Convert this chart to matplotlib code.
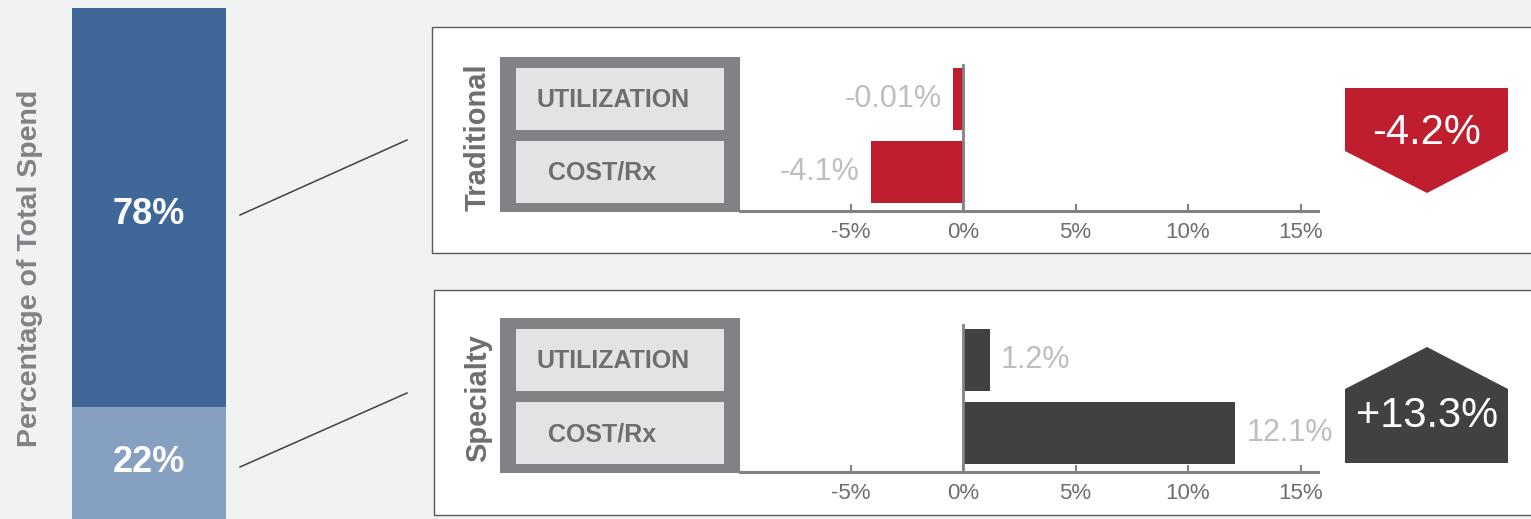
#!/usr/bin/env python3
"""Traditional vs specialty drug spend: share of spend and trend components."""

import numpy as np
import matplotlib.pyplot as plt
from matplotlib.patches import Rectangle, Polygon

# ---- data ----
segments = ["Traditional", "Specialty"]
share_of_spend = [78, 22]
components = ["UTILIZATION", "COST/Rx"]
trad_values = [-0.01, -4.1]
spec_values = [1.2, 12.1]
trad_labels = ["-0.01%", "-4.1%"]
spec_labels = ["1.2%", "12.1%"]
totals = [-4.2, 13.3]
x_ticks = [-5, 0, 5, 10, 15]

# ---- style ----
W, H = 1531, 519
BG = "#f1f2f2"
DARK_BLUE = "#3f6899"
LIGHT_BLUE = "#86a0c2"
RED = "#be1e2d"
CHARCOAL = "#414042"
FRAME = "#808285"
INNER = "#e2e3e4"
TEXT_DARK = "#6d6e71"
TEXT_LIGHT = "#bcbec0"
NARROW = ["Liberation Sans Narrow", "Liberation Sans", "DejaVu Sans"]
SANS = ["Liberation Sans", "DejaVu Sans"]

X0, PX = 963, 22.5   # pixel of 0% and pixels per percent
ROW = 73             # pixels between the two bar rows


def rect(x0, y0, x1, y1):
    """pixel box -> figure fraction [l, b, w, h]"""
    return [x0 / W, 1 - y1 / H, (x1 - x0) / W, (y1 - y0) / H]


fig = plt.figure(figsize=(W / 100, H / 100), dpi=100, facecolor=BG)

# overlay in pixel coords for frames, badges and connectors
ov = fig.add_axes([0, 0, 1, 1], zorder=0)
ov.set_xlim(0, W)
ov.set_ylim(H, 0)
ov.axis("off")

# left stacked bar
axs = fig.add_axes(rect(72, 8, 226, 519), zorder=1)
axs.bar(0, share_of_spend[1], width=1, color=LIGHT_BLUE)
axs.bar(0, share_of_spend[0], bottom=share_of_spend[1], width=1, color=DARK_BLUE)
axs.annotate(f"{share_of_spend[0]}%", (0, share_of_spend[1] + share_of_spend[0] / 2),
             xytext=(0, -5), textcoords="offset points",
             ha="center", va="center", color="white", fontsize=26, fontweight="bold", family=SANS)
axs.annotate(f"{share_of_spend[1]}%", (0, share_of_spend[1] / 2),
             ha="center", va="center", color="white", fontsize=26, fontweight="bold", family=SANS)
axs.set_xlim(-0.5, 0.5)
axs.set_ylim(0, 100)
axs.axis("off")

fig.text(30 / W, 1 - 268 / H, "Percentage of Total Spend", rotation=90, ha="center", va="center",
         color=FRAME, fontsize=20.5, fontweight="bold", family=SANS)

# connector lines
ov.plot([240, 407], [215, 140], color="#414042", lw=1.1)
ov.plot([240, 407], [467, 393], color="#414042", lw=1.1)

panels = [
    dict(box=(432, 27, 1545, 253), top=57, vals=trad_values, labels=trad_labels,
         color=RED, total=totals[0], zero_top=65),
    dict(box=(434, 290, 1545, 515), top=318, vals=spec_values, labels=spec_labels,
         color=CHARCOAL, total=totals[1], zero_top=325),
]

for seg, p in zip(segments, panels):
    bx0, by0, bx1, by1 = p["box"]
    ov.add_patch(Rectangle((bx0, by0), bx1 - bx0, by1 - by0, facecolor="white",
                           edgecolor="#58595b", lw=1))
    top = p["top"]
    # category label frame
    ov.add_patch(Rectangle((500, top), 240, 155, facecolor=FRAME, edgecolor="none"))
    for i, name in enumerate(components):
        yb = top + 11 + i * ROW
        ov.add_patch(Rectangle((516, yb), 208, 62, facecolor=INNER, edgecolor="none"))
        ov.text(537 if i == 0 else 548, yb + 32, name, ha="left", va="center",
                color=TEXT_DARK, fontsize=18, fontweight="bold", family=NARROW)
    ov.text(478, top + 80, seg, rotation=90, ha="center", va="center",
            color=TEXT_DARK, fontsize=21, fontweight="bold", family=SANS)

    # bar axes: rows centred 42 px and 42+ROW px below the axes top
    ax = fig.add_axes(rect(740, top, 1318, top + 154), zorder=2)
    ax.patch.set_alpha(0)
    ax.set_xlim((740 - X0) / PX, (1318 - X0) / PX)
    ax.set_ylim((154 - 42) / ROW, -42 / ROW)
    vals = np.array(p["vals"])
    shown = np.sign(vals) * np.maximum(np.abs(vals), 0.45)  # keep tiny bars visible
    ypos = np.arange(len(components))
    ax.barh(ypos, shown, height=62 / ROW, color=p["color"], zorder=2)
    for y, v, lab in zip(ypos, shown, p["labels"]):
        if v < 0:
            ax.annotate(lab, (v, y), xytext=(-8, 0), textcoords="offset points",
                        ha="right", va="center", color=TEXT_LIGHT, fontsize=22, family=NARROW)
        else:
            ax.annotate(lab, (v, y), xytext=(8, 0), textcoords="offset points",
                        ha="left", va="center", color=TEXT_LIGHT, fontsize=22, family=NARROW)
    ax.axvline(0, ymin=0, ymax=(top + 154 - p["zero_top"]) / 154, color=FRAME, lw=2, zorder=3)
    for s in ["top", "right", "left"]:
        ax.spines[s].set_visible(False)
    ax.spines["bottom"].set_color(FRAME)
    ax.spines["bottom"].set_linewidth(2.2)
    ax.set_yticks([])
    ax.set_xticks(x_ticks)
    ax.set_xticklabels([f"{t}%" for t in x_ticks], family=NARROW, fontsize=16, color=TEXT_DARK)
    ax.tick_params(axis="x", direction="in", length=5, width=1.5, color=FRAME, pad=8)

    # badge with total
    cx = 1427
    if p["total"] < 0:
        pts = [(1345, 88), (1508, 88), (1508, 151), (cx, 193), (1345, 151)]
        ty = 133
    else:
        pts = [(1345, 463), (1508, 463), (1508, 389), (cx, 347), (1345, 389)]
        ty = 416
    ov.add_patch(Polygon(pts, closed=True, facecolor=p["color"], edgecolor="none"))
    ov.text(cx, ty, f"{p['total']:+.1f}%", ha="center", va="center", color="white",
            fontsize=30, family=NARROW)

plt.savefig("out.png", dpi=100, facecolor=BG)
